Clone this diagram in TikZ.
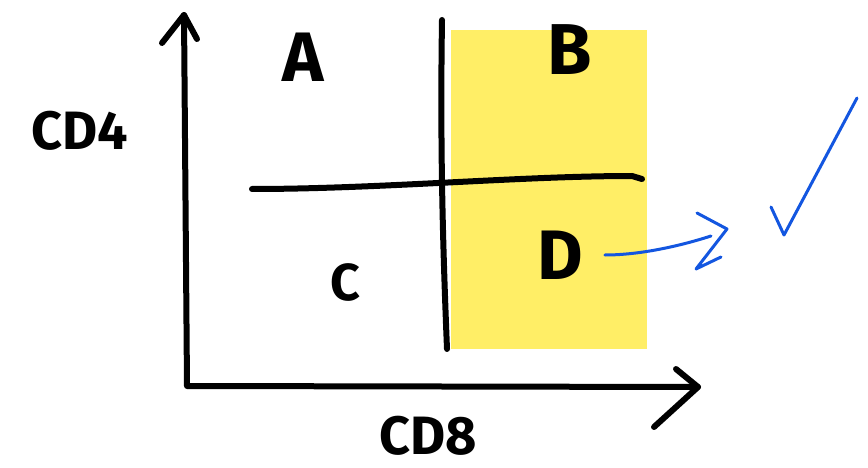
\documentclass[tikz,border=0pt]{standalone}
\usepackage{fontspec}
\setmainfont{Fira Sans}
\definecolor{hlyellow}{HTML}{FFEE66}
\definecolor{penblue}{HTML}{1356E0}
\tikzset{
  ink/.style={draw=black, line width=6pt, line cap=round, line join=round},
  blueink/.style={draw=penblue, line width=3pt, line cap=round, line join=round},
  lbl/.style={font=\fontsize{#1}{#1}\selectfont\bfseries, inner sep=0pt, text=black},
}
\begin{document}
\begin{tikzpicture}[x=1pt,y=-1pt]
\useasboundingbox (0,0) rectangle (868,468);
% highlighted region
\fill[hlyellow] (451,30) rectangle (647,349);
% axes
\coordinate (origin) at (187,386);
\coordinate (ytip) at (184,15);
\coordinate (xtip) at (698,387);
\draw[ink] (ytip) -- (origin) -- (xtip);
\draw[ink] (162,43) -- (ytip) -- (197,39);
\draw[ink] (676,369) -- (xtip) -- (654,427);
% dividers
\draw[ink] (442,20) .. controls (440,150) and (443,250) .. (447,349);
\draw[ink] (252,189) .. controls (380,189) and (520,176) .. (632,176) -- (642,179);
% labels
\node[lbl=70] (A) at (303,57) {A};
\node[lbl=72] (B) at (570,50) {B};
\node[lbl=52] (C) at (345,282) {C};
\node[lbl=70] (D) at (560,255) {D};
\node[lbl=54] (cd4) at (80,131) {CD4};
\node[lbl=54] (cd8) at (428,436) {CD8};
% blue arrow and check
\coordinate (aend) at (711,236);
\draw[blueink, shorten <=22pt] (D.east) .. controls (640,255) and (680,246) .. (aend);
\draw[blueink] (697,213) -- (727,229) -- (696,269) -- (721,257);
\draw[blueink] (771,207) -- (784,235) -- (857,98);
\end{tikzpicture}
\end{document}
